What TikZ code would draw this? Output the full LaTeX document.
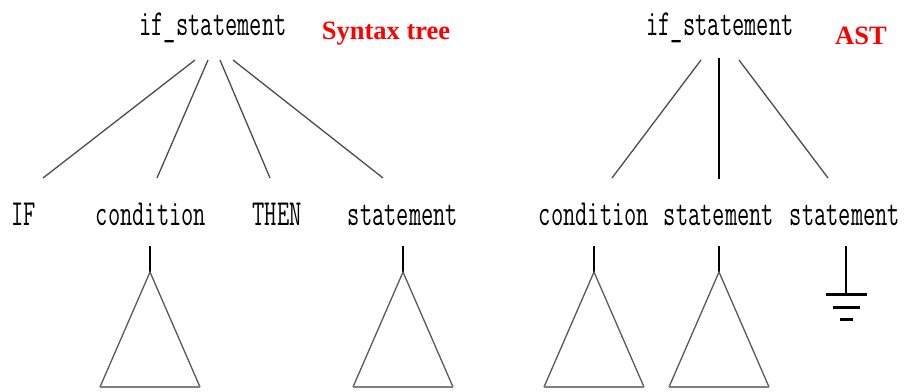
\documentclass[tikz,border=0pt]{standalone}
\usepackage{fontspec}
\usepackage{graphicx}
\newfontfamily\labelfont{Liberation Serif}
\newcommand{\cw}[1]{\scalebox{0.7}[1.08]{#1}}
\begin{document}
\begin{tikzpicture}[x=1pt,y=-1pt,
  code/.style={inner sep=0pt,anchor=base,font=\fontsize{34}{34}\selectfont\ttfamily},
  title/.style={inner sep=0pt,anchor=base,text=red,font=\fontsize{26.5}{26.5}\selectfont\labelfont\bfseries},
  edge/.style={line width=1.3pt,draw=black!70},
  stem/.style={line width=1.4pt,draw=black},
  tri/.style={line width=1.3pt,draw=black!65},
  base/.style={line width=2.2pt,draw=black!50},
  gnd/.style={line width=3pt,draw=black}]
\useasboundingbox (0,0) rectangle (904,391);

% ---- syntax tree ----
\node[code] (st) at (213,35) {\cw{if\_statement}};
\node[title] (sttl) at (386,39) {Syntax tree};
\node[code] (sif) at (24,225) {\cw{IF}};
\node[code] (scond) at (151,225) {\cw{condition}};
\node[code] (sthen) at (277,225) {\cw{THEN}};
\node[code] (sstmt) at (403,225) {\cw{statement}};

\coordinate (st1) at (195,60);  \coordinate (sb1) at (43,178);
\coordinate (st2) at (208,60);  \coordinate (sb2) at (157,178);
\coordinate (st3) at (220,60);  \coordinate (sb3) at (270,178);
\coordinate (st4) at (233,60);  \coordinate (sb4) at (383,178);
\draw[edge] (st1) -- (sb1);
\draw[edge] (st2) -- (sb2);
\draw[edge] (st3) -- (sb3);
\draw[edge] (st4) -- (sb4);

% subtrees below the syntax tree leaves
\foreach \x/\n in {150/sc, 403/ss} {
  \coordinate (\n top) at (\x,246);
  \coordinate (\n apex) at (\x,272);
  \coordinate (\n l) at (\x-50,387);
  \coordinate (\n r) at (\x+50,387);
  \draw[stem] (\n top) -- (\n apex);
  \draw[tri] (\n l) -- (\n apex) -- (\n r);
  \draw[base] (\n l) -- (\n r);
}

% ---- abstract syntax tree ----
\node[code] (at) at (720,35) {\cw{if\_statement}};
\node[title] (attl) at (861,44) {AST};
\node[code] (acond) at (594,225) {\cw{condition}};
\node[code] (astmt) at (719,225) {\cw{statement}};
\node[code] (aelse) at (845,225) {\cw{statement}};

\coordinate (at1) at (701,60);  \coordinate (ab1) at (612,178);
\coordinate (at2) at (719,58);  \coordinate (ab2) at (719,179);
\coordinate (at3) at (739,60);  \coordinate (ab3) at (828,178);
\draw[edge] (at1) -- (ab1);
\draw[line width=1.4pt] (at2) -- (ab2);
\draw[edge] (at3) -- (ab3);

\foreach \x/\n in {594/ac, 719/as} {
  \coordinate (\n top) at (\x,246);
  \coordinate (\n apex) at (\x,272);
  \coordinate (\n l) at (\x-50,387);
  \coordinate (\n r) at (\x+50,387);
  \draw[stem] (\n top) -- (\n apex);
  \draw[tri] (\n l) -- (\n apex) -- (\n r);
  \draw[base] (\n l) -- (\n r);
}

% empty subtree: ground symbol
\coordinate (gtop) at (846,246);
\coordinate (gbar) at (846,294);
\draw[stem] (gtop) -- (gbar);
\draw[gnd] (826,294) -- (867,294);
\draw[gnd] (833,307) -- (860,307);
\draw[gnd] (840,319) -- (853,319);
\end{tikzpicture}
\end{document}
